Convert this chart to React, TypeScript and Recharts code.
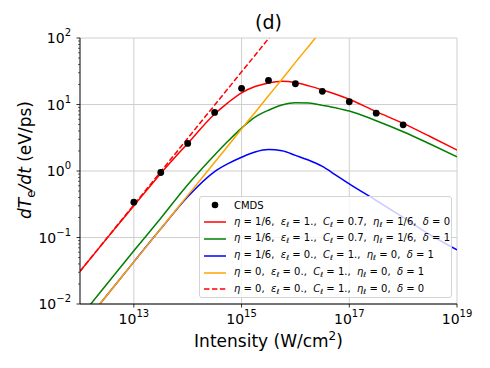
import React from "react";
import { ComposedChart, Line, XAxis, YAxis, CartesianGrid } from "recharts";

// Intensity sample points (W/cm^2)
const intensities = [1e12, 3.16e12, 1e13, 3.16e13, 1e14, 3.16e14, 5.62e14, 1e15, 1.78e15, 3.16e15, 5.62e15, 1e16, 1.78e16, 3.16e16, 5.62e16, 1e17, 3.16e17, 1e18, 3.16e18, 1e19];

// dTe/dt (eV/ps) series
const cmds = [null, null, 0.34, 0.95, 2.6, 7.6, null, 17.5, null, 23, null, 20.5, null, 15.8, null, 11.0, 7.4, 4.95, null, null];
const redSolid = [0.031, 0.097, 0.3, 0.92, 2.6, 7.2, 10.7, 15.0, 18.6, 21.1, 22.4, 21.4, 19.05, 16.6, 14.3, 12.0, 7.8, 5.2, 3.3, 2.07];
const greenSolid = [0.0063, 0.02, 0.063, 0.195, 0.62, 1.74, 2.82, 4.42, 6.46, 8.2, 9.8, 10.6, 10.5, 9.7, 8.9, 8.0, 5.7, 3.9, 2.55, 1.64];
const blueSolid = [0.0043, 0.0135, 0.043, 0.135, 0.41, 0.98, 1.29, 1.61, 1.93, 2.1, 2.02, 1.72, 1.45, 1.17, 0.87, 0.64, 0.36, 0.2, 0.11, 0.065];
const orangeSolid = [0.0043, 0.0135, 0.043, 0.135, 0.43, 1.35, 2.4, 4.3, 7.6, 13.5, 24, 43, 76, 135, null, null, null, null, null, null];
const redDashed = [0.031, 0.098, 0.31, 0.98, 3.1, 9.8, 17.4, 31, 55, 98, 174, null, null, null, null, null, null, null, null, null];

// ticks
const xTicks = [1e13, 1e15, 1e17, 1e19];
const yMajorTicks = [0.01, 0.1, 1, 10, 100];
const minorMultipliers = [2, 3, 4, 5, 6, 7, 8, 9];
const yMinorTicks = yMajorTicks.slice(0, -1).flatMap((m) => minorMultipliers.map((k) => +(m * k).toPrecision(3)));
const yAllTicks = [...yMajorTicks, ...yMinorTicks].sort((a, b) => a - b);

const data = intensities.map((I, i) => ({
  I,
  cmds: cmds[i],
  red: redSolid[i],
  green: greenSolid[i],
  blue: blueSolid[i],
  orange: orangeSolid[i],
  redDash: redDashed[i],
}));

const FONT = "DejaVu Sans";

const expText = (v: number) => {
  const e = Math.round(Math.log10(v));
  return e < 0 ? "\u2212" + Math.abs(e) : String(e);
};

const XTick = (props: any) => {
  const { x, y, payload } = props;
  return (
    <g>
      <line x1={x} x2={x} y1={y} y2={y + 3.5} stroke="#000" strokeWidth={0.8} />
      <text x={x} y={y + 20} textAnchor="middle" fontSize={14} fontFamily={FONT} fill="#000">
        10<tspan dy={-7} fontSize={10}>{expText(payload.value)}</tspan>
      </text>
    </g>
  );
};

const YTick = (props: any) => {
  const { x, y, payload } = props;
  const v = payload.value;
  const lg = Math.log10(v);
  const major = Math.abs(lg - Math.round(lg)) < 1e-6;
  return (
    <g>
      <line x1={x} x2={x - (major ? 3.5 : 2)} y1={y} y2={y} stroke="#000" strokeWidth={major ? 0.8 : 0.6} />
      {major && (
        <text x={x - 9} y={y + 5} textAnchor="end" fontSize={14} fontFamily={FONT} fill="#000">
          10<tspan dy={-7} fontSize={10}>{expText(v)}</tspan>
        </text>
      )}
    </g>
  );
};

const XLabel = () => (
  <g>
    <text x={268.5} y={29} textAnchor="middle" fontSize={19} fontFamily={FONT} fill="#000">
      (d)
    </text>
    <text x={268.5} y={347} textAnchor="middle" fontSize={17} fontFamily={FONT} fill="#000">
      Intensity (W/cm<tspan dy={-7} fontSize={12}>2</tspan>
      <tspan dy={7}>)</tspan>
    </text>
  </g>
);

const YLabel = () => (
  <text x={31} y={160} transform="rotate(-90, 31, 160)" textAnchor="middle" fontSize={17} fontFamily={FONT} fill="#000">
    <tspan fontStyle="italic">dT</tspan>
    <tspan fontSize={12} dy={4}>e</tspan>
    <tspan dy={-4} fontStyle="italic">/dt</tspan> (eV/ps)
  </text>
);

const I = ({ children }: { children: React.ReactNode }) => <span style={{ fontStyle: "italic" }}>{children}</span>;
const Sub = ({ children }: { children: React.ReactNode }) => (
  <span style={{ fontSize: "0.72em", fontStyle: "italic", verticalAlign: "-0.3em" }}>{children}</span>
);

const legendItems: { color: string; dashed?: boolean; marker?: boolean; label: React.ReactNode }[] = [
  { color: "#000", marker: true, label: "CMDS" },
  {
    color: "#ff0000",
    label: (
      <>
        <I>η</I> = 1/6,&nbsp; <I>ε</I><Sub>ℓ</Sub> = 1.,&nbsp; <I>C</I><Sub>ℓ</Sub> = 0.7,&nbsp; <I>η</I><Sub>ℓ</Sub> = 1/6,&nbsp; <I>δ</I> = 0
      </>
    ),
  },
  {
    color: "#008000",
    label: (
      <>
        <I>η</I> = 1/6,&nbsp; <I>ε</I><Sub>ℓ</Sub> = 1.,&nbsp; <I>C</I><Sub>ℓ</Sub> = 0.7,&nbsp; <I>η</I><Sub>ℓ</Sub> = 1/6,&nbsp; <I>δ</I> = 1
      </>
    ),
  },
  {
    color: "#0000ff",
    label: (
      <>
        <I>η</I> = 1/6,&nbsp; <I>ε</I><Sub>ℓ</Sub> = 0.,&nbsp; <I>C</I><Sub>ℓ</Sub> = 1.,&nbsp; <I>η</I><Sub>ℓ</Sub> = 0,&nbsp; <I>δ</I> = 1
      </>
    ),
  },
  {
    color: "#ffa500",
    label: (
      <>
        <I>η</I> = 0,&nbsp; <I>ε</I><Sub>ℓ</Sub> = 0.,&nbsp; <I>C</I><Sub>ℓ</Sub> = 1.,&nbsp; <I>η</I><Sub>ℓ</Sub> = 0,&nbsp; <I>δ</I> = 1
      </>
    ),
  },
  {
    color: "#ff0000",
    dashed: true,
    label: (
      <>
        <I>η</I> = 0,&nbsp; <I>ε</I><Sub>ℓ</Sub> = 0.,&nbsp; <I>C</I><Sub>ℓ</Sub> = 1.,&nbsp; <I>η</I><Sub>ℓ</Sub> = 0,&nbsp; <I>δ</I> = 0
      </>
    ),
  },
];

const LegendBox = () => (
  <div
    style={{
      position: "absolute",
      left: 199,
      top: 196,
      width: 253,
      height: 102,
      boxSizing: "border-box",
      border: "1px solid #d4d4d4",
      borderRadius: 3,
      background: "rgba(255,255,255,0.8)",
      fontFamily: FONT,
      fontSize: 10,
      color: "#000",
    }}
  >
    {legendItems.map((it, i) => (
      <div
        key={i}
        style={{ position: "absolute", left: 0, top: i * 16.8, height: 16.8, display: "flex", alignItems: "center", whiteSpace: "nowrap" }}
      >
        <svg width={22} height={10} style={{ marginLeft: 4, marginRight: 8 }}>
          {it.marker ? (
            <circle cx={11} cy={5} r={3.3} fill={it.color} />
          ) : (
            <line x1={0} x2={22} y1={5} y2={5} stroke={it.color} strokeWidth={1.5} strokeDasharray={it.dashed ? "5.5 2.4" : undefined} />
          )}
        </svg>
        <span>{it.label}</span>
      </div>
    ))}
  </div>
);

export default function App() {
  return (
    <div style={{ position: "absolute", left: 0, top: 0, width: 490, height: 368, background: "#fff" }}>
      <ComposedChart width={490} height={368} data={data} margin={{ top: 38, right: 33, bottom: 0, left: 0 }}>
        <CartesianGrid stroke="#cfcfcf" strokeWidth={1} horizontalValues={yMajorTicks} verticalValues={xTicks} />
        <XAxis
          dataKey="I"
          type="number"
          scale="log"
          domain={[1e12, 1e19]}
          ticks={xTicks}
          allowDataOverflow
          height={64}
          tickSize={0}
          tickMargin={0}
          tickLine={false}
          tick={<XTick />}
          axisLine={{ stroke: "#000", strokeWidth: 1 }}
          interval={0}
          label={<XLabel />}
        />
        <XAxis
          xAxisId="top"
          orientation="top"
          type="number"
          scale="log"
          domain={[1e12, 1e19]}
          allowDataOverflow
          height={0}
          tick={false}
          tickLine={false}
          axisLine={{ stroke: "#000", strokeWidth: 1 }}
        />
        <YAxis
          type="number"
          scale="log"
          domain={[0.01, 100]}
          ticks={yAllTicks}
          allowDataOverflow
          width={80}
          tickSize={0}
          tickMargin={0}
          tickLine={false}
          tick={<YTick />}
          interval={0}
          axisLine={{ stroke: "#000", strokeWidth: 1 }}
          label={<YLabel />}
        />
        <YAxis
          yAxisId="right"
          orientation="right"
          type="number"
          scale="log"
          domain={[0.01, 100]}
          allowDataOverflow
          width={0}
          tick={false}
          tickLine={false}
          axisLine={{ stroke: "#000", strokeWidth: 1 }}
        />
        <Line dataKey="red" type="monotone" stroke="#ff0000" strokeWidth={1.5} dot={false} isAnimationActive={false} />
        <Line dataKey="green" type="monotone" stroke="#008000" strokeWidth={1.5} dot={false} isAnimationActive={false} />
        <Line dataKey="blue" type="monotone" stroke="#0000ff" strokeWidth={1.5} dot={false} isAnimationActive={false} />
        <Line dataKey="orange" type="monotone" stroke="#ffa500" strokeWidth={1.5} dot={false} isAnimationActive={false} />
        <Line dataKey="redDash" type="monotone" stroke="#ff0000" strokeWidth={1.5} strokeDasharray="5.5 2.4" dot={false} isAnimationActive={false} />
        <Line
          dataKey="cmds"
          stroke="none"
          dot={{ r: 3.4, fill: "#000", stroke: "#000", strokeWidth: 0 }}
          isAnimationActive={false}
        />
      </ComposedChart>
      <LegendBox />
    </div>
  );
}
